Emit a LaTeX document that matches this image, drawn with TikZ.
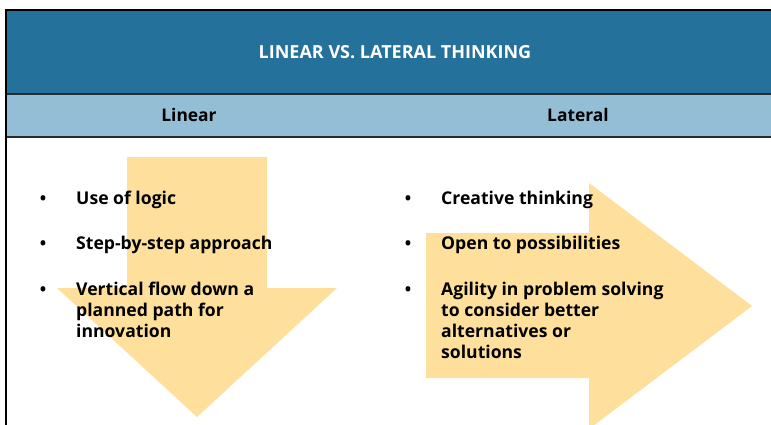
\documentclass[tikz,border=0pt]{standalone}
\usepackage{fontspec}
\setmainfont{Open Sans}
\definecolor{hdark}{RGB}{36,114,156}
\definecolor{hlight}{RGB}{148,190,214}
\definecolor{arr}{RGB}{254,223,155}
\definecolor{rule}{RGB}{40,44,48}
\begin{document}
\begin{tikzpicture}[x=1pt,y=-1pt,
  item/.style={anchor=base west,inner sep=0pt,font=\bfseries\fontsize{17.6}{21.2}\selectfont,text=black},
  bul/.style={anchor=base,inner sep=0pt,font=\bfseries\fontsize{17}{21}\selectfont},
  colhead/.style={inner sep=0pt,font=\bfseries\fontsize{17.4}{20}\selectfont,text=black}]
\useasboundingbox (0,0) rectangle (771,424);
% header bands
\fill[hdark] (6,10) rectangle (790,94);
\fill[hlight] (6,94) rectangle (790,137);
\draw[rule,line width=1.4pt] (6,94) -- (790,94);
\draw[rule,line width=1.2pt] (6,137) -- (790,137);
\draw[black,line width=1.4pt] (6,430) -- (6,10) -- (790,10);
\node[inner sep=0pt,text=white,font=\bfseries\fontsize{18}{20}\selectfont] (title) at (395,52) {LINEAR VS. LATERAL THINKING};
\node[colhead] (hlin) at (189,115) {Linear};
\node[colhead] (hlat) at (578,115) {Lateral};
% arrows
\fill[arr] (127,157) -- (267,157) -- (267,288) -- (337,288) -- (197,417) -- (57,288) -- (127,288) -- cycle;
\fill[arr] (426,233) -- (589,233) -- (589,183) -- (752,306) -- (589,429) -- (589,378) -- (426,378) -- cycle;
% left items
\node[bul] (lb1) at (43,204) {•};
\node[bul] (lb2) at (43,249) {•};
\node[bul] (lb3) at (43,295) {•};
\node[item] (l1) at (76,204) {Use of logic};
\node[item] (l2) at (76,249) {Step-by-step approach};
\node[item] (l3) at (76,295) {\parbox[t]{300pt}{Vertical flow down a\\planned path for\\innovation}};
% right items
\node[bul] (rb1) at (408,204) {•};
\node[bul] (rb2) at (408,249) {•};
\node[bul] (rb3) at (408,295) {•};
\node[item] (r1) at (441,204) {Creative thinking};
\node[item] (r2) at (441,249) {Open to possibilities};
\node[item] (r3) at (441,295) {\parbox[t]{300pt}{Agility in problem solving\\to consider better\\alternatives or\\solutions}};
\end{tikzpicture}
\end{document}
